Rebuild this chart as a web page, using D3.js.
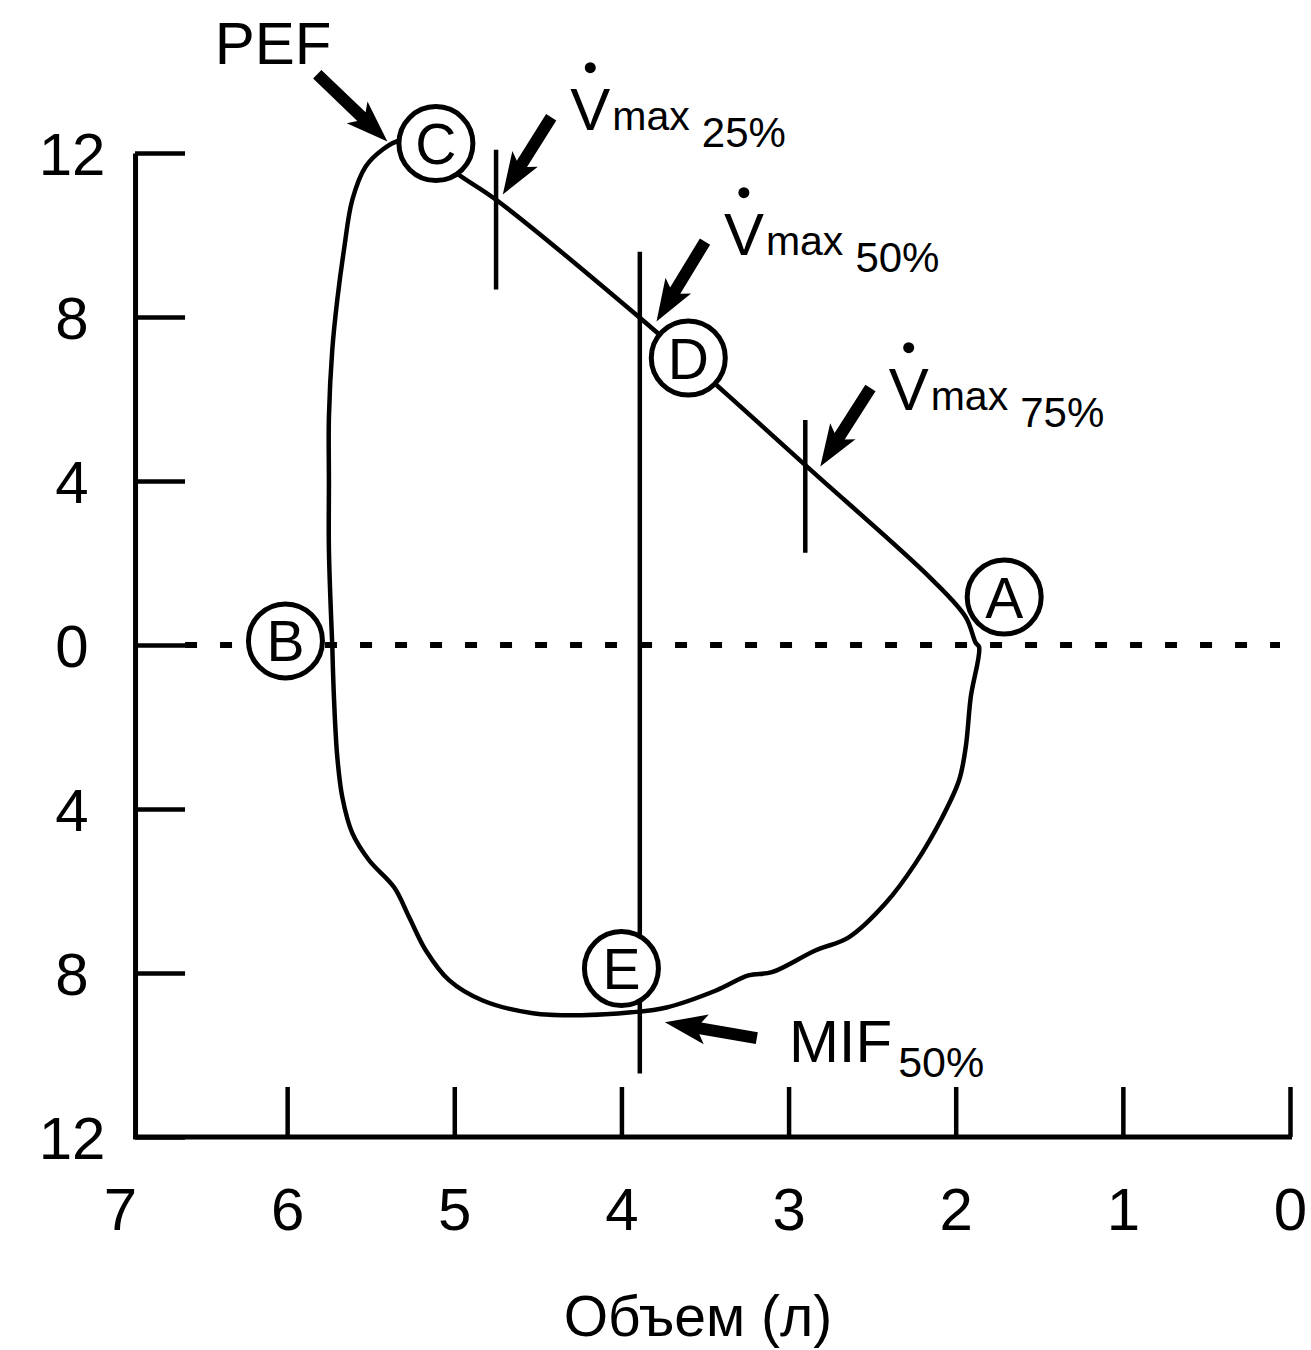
<!DOCTYPE html>
<html>
<head>
<meta charset="utf-8">
<script src="https://cdn.jsdelivr.net/npm/d3@7"></script>
<style>
  body { margin: 0; background: #fff; }
  text { font-family: "Liberation Sans", Arial, sans-serif; fill: #000; }
</style>
</head>
<body>
<div id="chart"></div>
<script>
// flow-volume loop, values (volume in l, flow in l/s)
var expVolume = [5.73, 5.75, 5.75, 5.75, 5.73, 5.70, 5.66, 5.61, 5.53, 5.43, 5.33, 5.18, 5.00, 4.75, 3.89, 3.42, 2.89, 2.14, 1.94, 1.88];
var expFlow   = [0.00, 2.32, 3.96, 5.57, 7.20, 8.42, 9.64, 10.86, 11.67, 12.08, 12.30, 12.21, 11.55, 10.86, 7.98, 6.30, 4.35, 1.59, 0.68, 0.05];
var inspVolume = [1.86, 1.91, 1.94, 1.98, 2.08, 2.24, 2.42, 2.64, 2.84, 3.10, 3.24, 3.43, 3.73, 3.94, 4.24, 4.53, 4.83, 5.03, 5.17, 5.27, 5.36, 5.51, 5.61, 5.67, 5.70, 5.72, 5.73];
var inspFlow   = [-0.05, -1.27, -2.49, -3.30, -4.20, -5.32, -6.30, -7.13, -7.45, -7.98, -8.06, -8.42, -8.84, -8.96, -9.03, -8.98, -8.67, -8.18, -7.45, -6.64, -5.91, -5.25, -4.59, -3.71, -2.73, -1.27, 0.00];

// axes
var xTicks = [7, 6, 5, 4, 3, 2, 1, 0];
var yTicks = [12, 8, 4, 0, -4, -8, -12];
var yTickLabels = ["12", "8", "4", "0", "4", "8", "12"];
var axisVolume = 6.91;   // where the flow axis crosses

// lettered points A..E
var pointLabels = ["A", "B", "C", "D", "E"];
var pointVolume = [1.71, 6.01, 5.11, 3.60, 4.00];
var pointFlow   = [1.17, 0.10, 12.23, 7.00, -7.89];

// short vertical markers at 25% and 75%, long one at 50%
var markVolume = [4.75, 2.90, 3.89];
var markTop    = [12.08, 5.49, 9.59];
var markBottom = [8.67, 2.25, -10.45];

// arrows: tail -> tip
var arrowFromVol  = [5.82, 4.42, 3.50, 2.51, 3.19];
var arrowFromFlow = [13.92, 12.87, 9.84, 6.27, -9.59];
var arrowToVol    = [5.40, 4.71, 3.79, 2.81, 3.74];
var arrowToFlow   = [12.28, 10.99, 7.89, 4.35, -9.20];

// Vmax annotations
var vmaxSub    = ["25%", "50%", "75%"];
var vmaxVolume = [4.306, 3.387, 2.401];
var vmaxFlow   = [12.57, 9.52, 5.74];

var width = 1311, height = 1350;

var svg = d3.select("#chart").append("svg")
            .attr("width", width)
            .attr("height", height);

var x = d3.scaleLinear().domain([7, 0]).range([120, 1290]);
var y = d3.scaleLinear().domain([-12, 12]).range([1137, 153]);

//zero flow dotted line
svg.append("line")
   .attr("x1", x(axisVolume) + 50).attr("x2", x(0) - 10)
   .attr("y1", y(0)).attr("y2", y(0))
   .attr("stroke", "#000")
   .attr("stroke-width", 6)
   .attr("stroke-dasharray", "12,23");

//the loop
var loopData = d3.zip(expVolume, expFlow).concat(d3.zip(inspVolume, inspFlow));
var line = d3.line()
             .x(function(d){ return x(d[0]); })
             .y(function(d){ return y(d[1]); })
             .curve(d3.curveCatmullRom.alpha(0.5));
svg.append("path")
   .datum(loopData)
   .attr("d", line)
   .attr("fill", "none")
   .attr("stroke", "#000")
   .attr("stroke-width", 4.5);

//markers
svg.selectAll(".mark")
   .data(markVolume)
   .enter().append("line")
   .attr("class", "mark")
   .attr("x1", function(d){ return x(d); })
   .attr("x2", function(d){ return x(d); })
   .attr("y1", function(d, i){ return y(markTop[i]); })
   .attr("y2", function(d, i){ return y(markBottom[i]); })
   .attr("stroke", "#000")
   .attr("stroke-width", 4.5);

//y axis
var yAxis = d3.axisLeft(y)
              .tickValues(yTicks)
              .tickSizeInner(-50)
              .tickSizeOuter(0)
              .tickFormat(function(d, i){ return yTickLabels[i]; });
var gy = svg.append("g")
            .attr("transform", "translate(" + x(axisVolume) + ",0)")
            .call(yAxis);
gy.select(".domain").attr("stroke-width", 5);
gy.selectAll(".tick line").attr("stroke-width", 4.5);
gy.selectAll(".tick text")
  .attr("x", 72 - x(axisVolume))
  .attr("dy", "0.36em")
  .attr("text-anchor", "middle")
  .style("font-size", "60px")
  .style("font-family", "'Liberation Sans', Arial, sans-serif");

//x axis
var xAxis = d3.axisBottom(x)
              .tickValues(xTicks)
              .tickSizeInner(-50)
              .tickSizeOuter(0)
              .tickFormat(d3.format("d"));
var gx = svg.append("g")
            .attr("transform", "translate(0," + y(-12) + ")")
            .call(xAxis);
gx.select(".domain").remove();
gx.selectAll(".tick line")
  .attr("stroke-width", 4.5)
  .attr("display", function(d){ return d === 7 ? "none" : null; });
gx.selectAll(".tick text")
  .attr("y", 93)
  .attr("dy", 0)
  .style("font-size", "60px")
  .style("font-family", "'Liberation Sans', Arial, sans-serif");
svg.append("line")
   .attr("x1", x(axisVolume) - 2).attr("x2", x(0) + 2)
   .attr("y1", y(-12)).attr("y2", y(-12))
   .attr("stroke", "#000")
   .attr("stroke-width", 5);

svg.append("text")
   .attr("x", 698)
   .attr("y", 1336)
   .attr("text-anchor", "middle")
   .style("font-size", "57px")
   .text("Объем (л)");

//lettered circles
var pts = svg.selectAll(".pt")
             .data(pointLabels)
             .enter().append("g")
             .attr("class", "pt")
             .attr("transform", function(d, i){ return "translate(" + x(pointVolume[i]) + "," + y(pointFlow[i]) + ")"; });
pts.append("circle")
   .attr("r", 37)
   .attr("fill", "#fff")
   .attr("stroke", "#000")
   .attr("stroke-width", 5);
pts.append("text")
   .attr("text-anchor", "middle")
   .attr("dy", "0.36em")
   .style("font-size", "57px")
   .text(function(d){ return d; });

//arrows
function arrowPath(x1, y1, x2, y2){
  var dx = x2 - x1, dy = y2 - y1, len = Math.sqrt(dx*dx + dy*dy);
  var ux = dx/len, uy = dy/len, nx = -uy, ny = ux;
  var headLen = 42, headW = 15, shaftW = 6;
  var bx = x2 - ux*headLen, by = y2 - uy*headLen;
  var p = [
    [x1 + nx*shaftW, y1 + ny*shaftW],
    [bx + nx*shaftW + ux*6, by + ny*shaftW + uy*6],
    [bx + nx*headW, by + ny*headW],
    [x2, y2],
    [bx - nx*headW, by - ny*headW],
    [bx - nx*shaftW + ux*6, by - ny*shaftW + uy*6],
    [x1 - nx*shaftW, y1 - ny*shaftW]
  ];
  return "M" + p.map(function(q){ return q[0].toFixed(1) + "," + q[1].toFixed(1); }).join("L") + "Z";
}
svg.selectAll(".arrow")
   .data(arrowFromVol)
   .enter().append("path")
   .attr("class", "arrow")
   .attr("d", function(d, i){
     return arrowPath(x(d), y(arrowFromFlow[i]), x(arrowToVol[i]), y(arrowToFlow[i]));
   })
   .attr("fill", "#000");

//labels
svg.append("text")
   .attr("x", x(6.433))
   .attr("y", y(14.16))
   .style("font-size", "60px")
   .text("PEF");

var vm = svg.selectAll(".vmax")
            .data(vmaxSub)
            .enter().append("g")
            .attr("class", "vmax")
            .attr("transform", function(d, i){ return "translate(" + x(vmaxVolume[i]) + "," + y(vmaxFlow[i]) + ")"; });
vm.append("circle")
  .attr("cx", 20)
  .attr("cy", -62)
  .attr("r", 5.5)
  .attr("fill", "#000");
var vt = vm.append("text");
vt.append("tspan").style("font-size", "60px").text("V");
vt.append("tspan").style("font-size", "41px").attr("dx", 2).text("max");
vt.append("tspan").style("font-size", "42px").attr("dx", 12).attr("dy", 17).text(function(d){ return d; });

var mif = svg.append("text")
             .attr("x", x(2.998))
             .attr("y", y(-10.18));
mif.append("tspan").style("font-size", "60px").text("MIF");
mif.append("tspan").style("font-size", "43px").attr("dx", 6).attr("dy", 15).text("50%");
</script>
</body>
</html>
